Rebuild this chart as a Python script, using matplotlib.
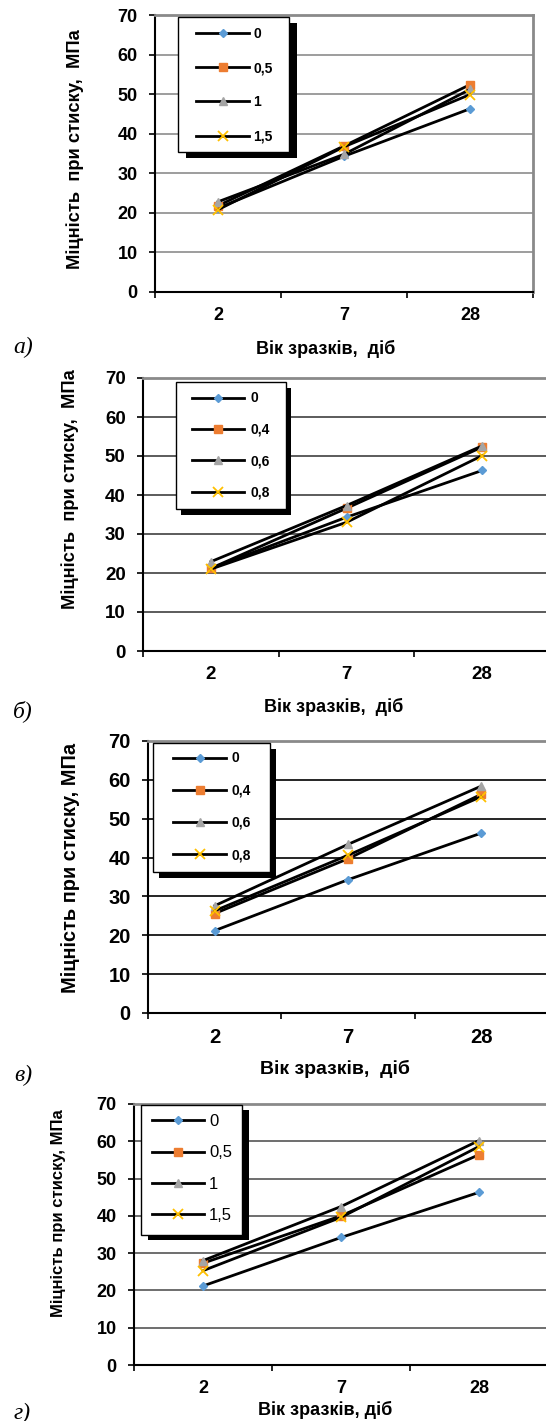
import matplotlib
matplotlib.use("Agg")
import matplotlib.pyplot as plt
from matplotlib.patches import Rectangle

W, H = 546, 1421

ages = ["2", "7", "28"]

# panel а
labels_a = ["0", "0,5", "1", "1,5"]
strength_a = [[21.2, 34.3, 46.3],
              [21.8, 36.9, 52.4],
              [22.8, 34.8, 51.2],
              [20.8, 36.7, 49.9]]

# panel б
labels_b = ["0", "0,4", "0,6", "0,8"]
strength_b = [[21.2, 34.3, 46.3],
              [21.2, 36.6, 52.3],
              [22.9, 37.3, 52.6],
              [21.0, 33.0, 50.1]]

# panel в
labels_c = ["0", "0,4", "0,6", "0,8"]
strength_c = [[21.2, 34.3, 46.3],
              [25.6, 39.7, 56.3],
              [27.6, 43.4, 58.4],
              [26.3, 40.6, 55.7]]

# panel г
labels_d = ["0", "0,5", "1", "1,5"]
strength_d = [[21.2, 34.2, 46.3],
              [27.3, 40.0, 56.4],
              [28.0, 42.5, 60.2],
              [25.3, 39.6, 58.6]]

markers = ["D", "s", "^", "x"]
mcolors = ["#5B9BD5", "#ED7D31", "#A5A5A5", "#FFC000"]
msizes = [4.5, 5.5, 6, 7]

plt.rcParams["font.family"] = ["Liberation Sans", "DejaVu Sans"]

fig = plt.figure(figsize=(W / 100, H / 100), dpi=100)


def px(x, y):
    return x / W, 1 - y / H


def panel(box, labels, values, letter, ylab, xlab, ylab_xy, xlab_xy, letter_xy,
          grid_color, tick_fs, ylab_fs, xlab_fs, frame, leg_xy, leg_fs, leg_weight,
          leg_space, shadow=(7, 6)):
    l, t, r, b = box
    ax = fig.add_axes([l / W, 1 - b / H, (r - l) / W, (b - t) / H])
    x = list(range(len(ages)))
    for lab, vals, m, c, ms in zip(labels, values, markers, mcolors, msizes):
        ax.plot(x, vals, color="black", lw=2, marker=m, ms=ms, mfc=c, mec=c,
                mew=1.3 if m == "x" else 1, label=lab)
    ax.set_xlim(-0.5, 2.5)
    ax.set_ylim(0, 70)
    ax.set_yticks(range(0, 71, 10))
    ax.set_xticks(x)
    ax.set_xticklabels(ages)
    ax.set_xticks([-0.5, 0.5, 1.5, 2.5], minor=True)
    ax.tick_params(axis="x", which="major", length=0, pad=10.5, labelsize=tick_fs)
    ax.tick_params(axis="x", which="minor", length=4, width=1.2)
    ax.tick_params(axis="y", length=4, width=1.2, pad=8.5, labelsize=tick_fs)
    for tl in ax.get_xticklabels() + ax.get_yticklabels():
        tl.set_fontweight("bold")
    ax.yaxis.grid(True, color=grid_color, lw=1.2)
    ax.set_axisbelow(True)
    ax.spines["left"].set_linewidth(1.5)
    ax.spines["bottom"].set_linewidth(1.5)
    ax.spines["top"].set_color("#8a8a8a")
    ax.spines["top"].set_linewidth(2)
    ax.spines["right"].set_color("#8a8a8a")
    ax.spines["right"].set_linewidth(2)

    fig.text(*px(*ylab_xy), ylab, rotation=90, ha="center", va="center",
             fontsize=ylab_fs, fontweight="bold")
    fig.text(*px(*xlab_xy), xlab, ha="center", va="center",
             fontsize=xlab_fs, fontweight="bold")
    fig.text(*px(*letter_xy), letter, ha="center", va="center", fontsize=17,
             family="Liberation Serif", style="italic")

    # legend frame with a black drop shadow
    fx0, fy0, fx1, fy1 = frame
    ox, oy = shadow
    for dx, dy, fc, ec, z in [(ox, oy, "black", "none", 5.5), (0, 0, "white", "black", 5.6)]:
        ax.add_artist(Rectangle(((fx0 + dx) / W, 1 - (fy1 + dy) / H),
                                (fx1 - fx0) / W, (fy1 - fy0) / H,
                                transform=fig.transFigure, facecolor=fc, edgecolor=ec,
                                lw=1, zorder=z, clip_on=False))

    fs_px = leg_fs * 100 / 72
    hx0, hx1, tx = leg_xy[0], leg_xy[1], leg_xy[2]
    leg = ax.legend(loc="upper left", bbox_to_anchor=px(hx0, leg_xy[3]),
                    bbox_transform=fig.transFigure, borderaxespad=0, borderpad=0,
                    frameon=False, numpoints=1,
                    prop={"size": leg_fs, "weight": leg_weight},
                    handlelength=(hx1 - hx0) / fs_px, handletextpad=(tx - hx1) / fs_px,
                    labelspacing=leg_space)
    leg.set_zorder(6)
    return ax


panel((155, 15, 533, 292), labels_a, strength_a, "а)",
      "Міцність  при стиску,  МПа", "Вік зразків,  діб",
      (75, 149), (326, 349), (23, 347), "#8c8c8c", 13, 13.2, 13,
      (178, 17, 289, 152), (196, 249, 253, 27), 10, "bold", 1.45, (8, 6))
panel((143, 378, 550, 651), labels_b, strength_b, "б)",
      "Міцність  при стиску,  МПа", "Вік зразків,  діб",
      (70, 489), (334, 707), (23, 711), "#404040", 13.5, 13.2, 13,
      (176, 382, 286, 509), (192, 244, 250, 391.5), 10, "bold", 1.25, (5, 6))
panel((148, 741, 548, 1013), labels_c, strength_c, "в)",
      "Міцність при стиску, МПа", "Вік зразків,  діб",
      (70, 868), (335, 1069), (23, 1075), "black", 14.5, 14.4, 14,
      (153, 743, 270, 872), (173, 226, 232, 751.5), 10, "bold", 1.31, (6, 6))
panel((134, 1104, 548, 1365), labels_d, strength_d, "г)",
      "Міцність при стиску, МПа", "Вік зразків, діб",
      (59, 1213), (325, 1410), (22, 1413), "#555555", 13, 12, 13,
      (141, 1105, 242, 1235), (152, 204, 209, 1114), 12, "normal", 0.98, (7, 5))

fig.savefig("out.png", dpi=100)
